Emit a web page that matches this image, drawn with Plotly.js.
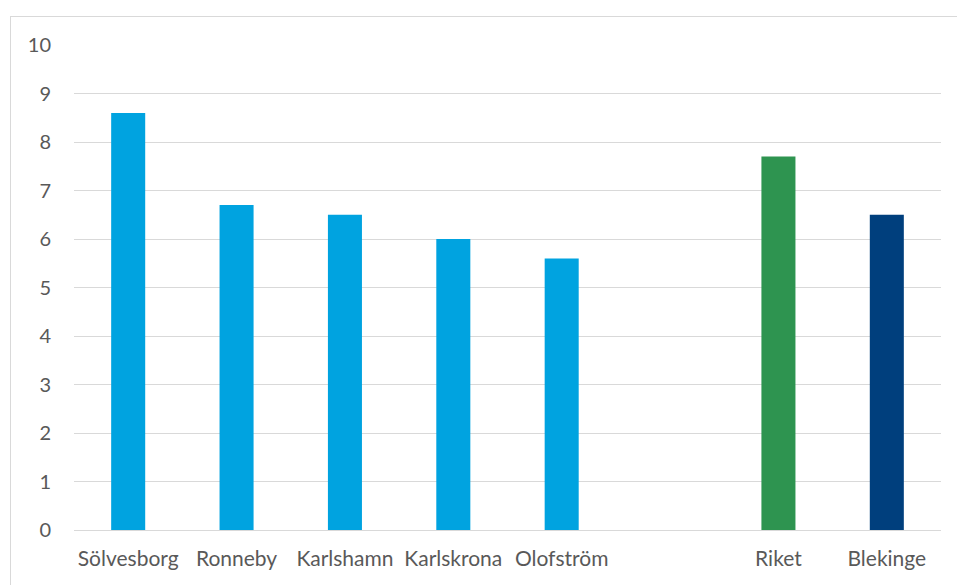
<!DOCTYPE html>
<html>
<head>
<meta charset="utf-8">
<script src="https://cdn.plot.ly/plotly-3.0.1.min.js"></script>
<style>
html,body{margin:0;padding:0;background:#fff;overflow:hidden;}
#frame{position:absolute;left:10px;top:16px;width:960px;height:600px;border:1px solid #d9d9d9;box-sizing:border-box;pointer-events:none;z-index:2;}
#chart{position:absolute;left:0;top:0;width:957px;height:585px;}
</style>
</head>
<body>
<div id="chart"></div>
<div id="frame"></div>
<script>
const categories = ["Sölvesborg", "Ronneby", "Karlshamn", "Karlskrona", "Olofström", " ", "Riket", "Blekinge"];
const values = [8.6, 6.7, 6.5, 6.0, 5.6, null, 7.7, 6.5];
const barColors = ["#00a3e0", "#00a3e0", "#00a3e0", "#00a3e0", "#00a3e0", "#00a3e0", "#2e9450", "#003f7d"];
const yTicks = [0, 1, 2, 3, 4, 5, 6, 7, 8, 9, 10];

const trace = {
  type: "bar",
  x: categories,
  y: values,
  marker: {color: barColors},
  hoverinfo: "x+y"
};

const layout = {
  width: 957,
  height: 585,
  margin: {l: 74, r: 16, t: 45, b: 55},
  paper_bgcolor: "#ffffff",
  plot_bgcolor: "#ffffff",
  bargap: 0.686,
  showlegend: false,
  font: {family: "Lato, Open Sans, sans-serif", size: 20, color: "#595959"},
  xaxis: {
    type: "category",
    categoryorder: "array",
    categoryarray: categories,
    showgrid: false,
    zeroline: false,
    showline: false,
    ticks: "",
    ticklabelstandoff: 14,
    tickfont: {family: "Lato, Open Sans, sans-serif", size: 21, color: "#595959"},
    automargin: false
  },
  yaxis: {
    range: [0, 10],
    tickvals: yTicks,
    ticktext: yTicks.map(String),
    showgrid: true,
    gridcolor: "#d9d9d9",
    gridwidth: 1,
    zeroline: true,
    zerolinecolor: "#d9d9d9",
    zerolinewidth: 1,
    showline: false,
    ticks: "",
    ticklabelstandoff: 22,
    tickfont: {family: "Lato, Open Sans, sans-serif", size: 20, color: "#595959"},
    automargin: false
  }
};

Plotly.newPlot("chart", [trace], layout, {displayModeBar: false, staticPlot: true});
</script>
</body>
</html>
